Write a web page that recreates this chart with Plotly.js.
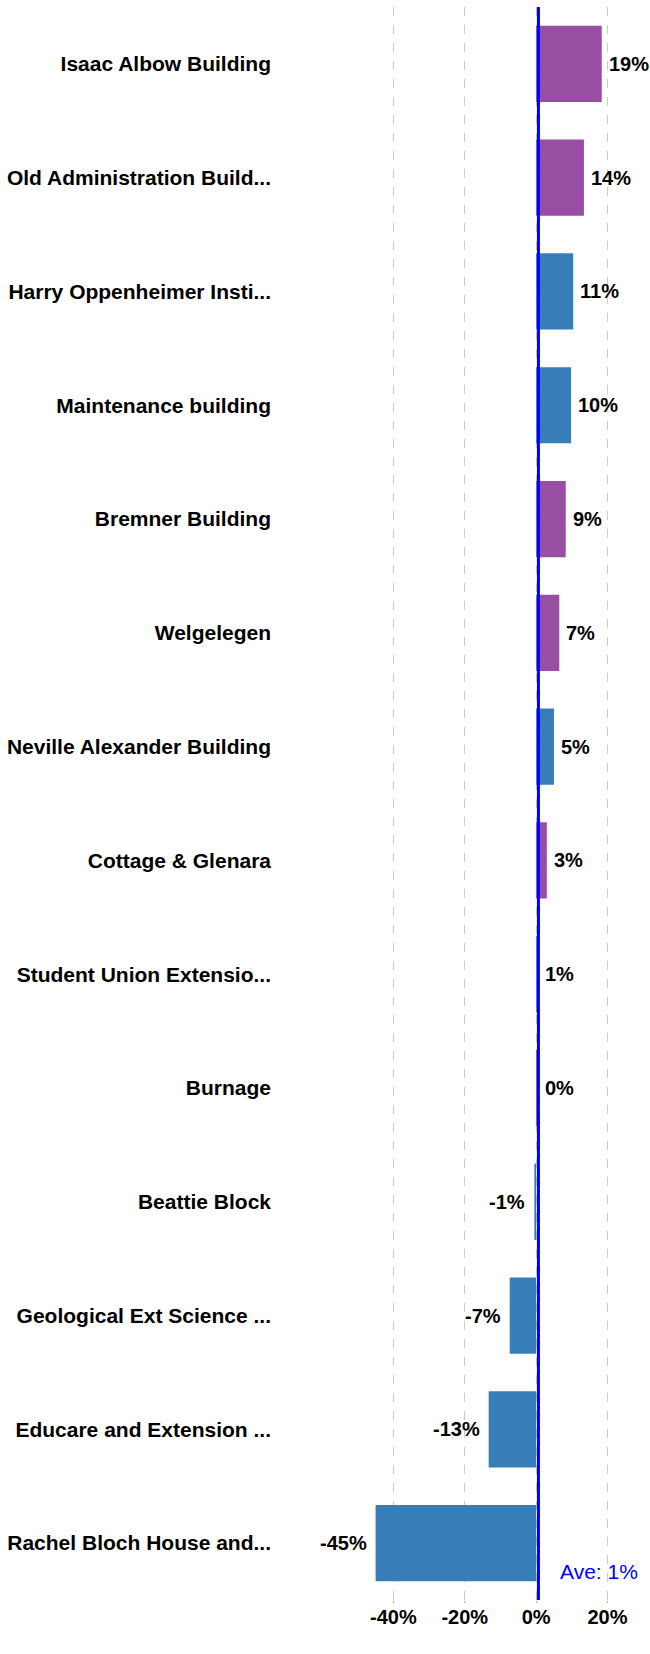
<!DOCTYPE html>
<html>
<head>
<meta charset="utf-8">
<script src="https://cdn.plot.ly/plotly-3.0.1.min.js"></script>
<style>html,body{margin:0;padding:0;background:#fff;}</style>
</head>
<body>
<div id="chart" style="width:650px;height:1654px;"></div>
<script>
const buildings = [
  "Isaac Albow Building",
  "Old Administration Build...",
  "Harry Oppenheimer Insti...",
  "Maintenance building",
  "Bremner Building",
  "Welgelegen",
  "Neville Alexander Building",
  "Cottage & Glenara",
  "Student Union Extensio...",
  "Burnage",
  "Beattie Block",
  "Geological Ext Science ...",
  "Educare and Extension ...",
  "Rachel Bloch House and..."
];
const changePct = [18.4, 13.4, 10.4, 9.8, 8.3, 6.5, 5.0, 3.0, 0.6, 0.3, -0.5, -7.4, -13.3, -45.0];
const valueLabels = ["19%", "14%", "11%", "10%", "9%", "7%", "5%", "3%", "1%", "0%", "-1%", "-7%", "-13%", "-45%"];
const group = ["p", "p", "b", "b", "p", "p", "b", "p", "b", "p", "b", "b", "b", "b"];
const averagePct = 0.65;
const averageLabel = "Ave: 1%";
const xTickVals = [-40, -20, 0, 20];
const xTickText = ["-40%", "-20%", "0%", "20%"];

const colorMap = {p: "#984EA3", b: "#377EB8"};
const font = "Arial, 'Liberation Sans', sans-serif";

const trace = {
  type: "bar",
  orientation: "h",
  y: buildings,
  x: changePct,
  marker: {color: group.map(g => colorMap[g])},
  width: 0.67,
  hoverinfo: "none"
};

const labelAnnotations = buildings.map((b, i) => {
  const v = changePct[i];
  const pos = v >= 0;
  return {
    xref: "x", yref: "y",
    x: pos ? Math.max(v, 0.6) : v, y: b,
    xanchor: pos ? "left" : "right",
    yanchor: "middle",
    xshift: pos ? 5 : -7,
    text: valueLabels[i],
    showarrow: false,
    font: {family: font, size: 20, color: "#000", weight: "bold"}
  };
});

const layout = {
  width: 650,
  height: 1654,
  margin: {l: 280, r: 14, t: 7, b: 54},
  paper_bgcolor: "#fff",
  plot_bgcolor: "#fff",
  showlegend: false,
  font: {family: font, size: 20, color: "#000"},
  xaxis: {
    range: [-71.8, 28],
    tickvals: xTickVals,
    ticktext: xTickText,
    showgrid: true,
    gridcolor: "#cccccc",
    griddash: "dash",
    gridwidth: 1,
    zeroline: false,
    showline: false,
    ticks: "outside",
    ticklen: 2,
    tickcolor: "#f5a020",
    ticklabelstandoff: -3,
    tickfont: {family: font, size: 20, color: "#000", weight: "bold"},
    fixedrange: true
  },
  yaxis: {
    autorange: "reversed",
    showgrid: false,
    zeroline: false,
    showline: false,
    ticks: "",
    ticklabelstandoff: 8,
    tickfont: {family: font, size: 21, color: "#000", weight: "bold"},
    automargin: false,
    fixedrange: true
  },
  shapes: [{
    type: "line",
    xref: "x", yref: "paper",
    x0: averagePct, x1: averagePct, y0: 0, y1: 1,
    line: {color: "#0000ff", width: 3}
  }],
  annotations: labelAnnotations.concat([{
    xref: "x", yref: "paper",
    x: averagePct, y: 0.018,
    xanchor: "left", yanchor: "middle",
    xshift: 20,
    text: averageLabel,
    showarrow: false,
    font: {family: font, size: 21, color: "#0000ff"}
  }])
};

Plotly.newPlot("chart", [trace], layout, {displayModeBar: false, staticPlot: true});
</script>
</body>
</html>
